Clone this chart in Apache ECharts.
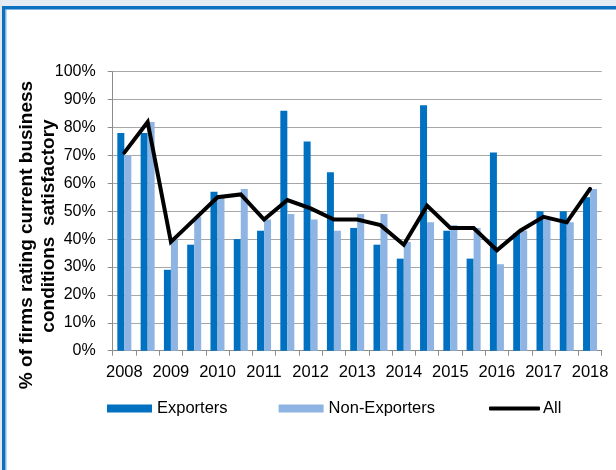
<!DOCTYPE html>
<html>
<head>
<meta charset="utf-8">
<script src="https://cdn.jsdelivr.net/npm/echarts@6/dist/echarts.min.js"></script>
<style>
html,body{margin:0;padding:0;background:#fff;}
#chart{width:616px;height:470px;}
</style>
</head>
<body>
<div id="chart"></div>
<script>
var categories = ['2008 H1','2008 H2','2009 H1','2009 H2','2010 H1','2010 H2','2011 H1','2011 H2','2012 H1','2012 H2','2013 H1','2013 H2','2014 H1','2014 H2','2015 H1','2015 H2','2016 H1','2016 H2','2017 H1','2017 H2','2018 H1'];
var exporters    = [78, 78, 29, 38, 57, 40, 43, 86, 75, 64, 44, 38, 33, 88, 43, 33, 71, 42, 50, 50, 55];
var nonExporters = [70, 82, 40, 48, 55, 58, 47, 49, 47, 43, 49, 49, 39, 46, 45, 44, 31, 43, 47, 46, 58];
var all          = [71, 82, 39, 47, 55, 56, 47, 54, 51, 47, 47, 45, 38, 52, 44, 44, 36, 43, 48, 46, 58];
var yTicks = [0, 10, 20, 30, 40, 50, 60, 70, 80, 90, 100];
var seriesNames = ['Exporters', 'Non-Exporters', 'All'];
var yTitleLines = ['% of firms rating current business', 'conditions  satisfactory'];

var chart = echarts.init(document.getElementById('chart'), null, {renderer: 'canvas'});
var font = 'Liberation Sans, Arial, sans-serif';
chart.setOption({
  animation: false,
  backgroundColor: '#ffffff',
  graphic: [
    {type: 'rect', shape: {x: 0, y: 0, width: 616, height: 6}, style: {fill: '#E4EBF5'}, silent: true},
    {type: 'rect', shape: {x: 0, y: 0, width: 2, height: 470}, style: {fill: '#E4E8EE'}, silent: true},
    {type: 'rect', shape: {x: 2, y: 6, width: 614, height: 3}, style: {fill: '#0C70C0'}, silent: true},
    {type: 'rect', shape: {x: 2, y: 9, width: 614, height: 1}, style: {fill: '#7FB2DE'}, silent: true},
    {type: 'rect', shape: {x: 2, y: 6, width: 3.5, height: 464}, style: {fill: '#0C70C0'}, silent: true},
    {type: 'rect', shape: {x: 5.5, y: 9, width: 1, height: 461}, style: {fill: '#7FB2DE'}, silent: true},
    {type: 'text', x: 27, y: 235, rotation: Math.PI / 2, silent: true,
     style: {text: yTitleLines[0], font: 'bold 19px ' + font, fill: '#000', textAlign: 'center', textVerticalAlign: 'middle'}},
    {type: 'text', x: 49, y: 226, rotation: Math.PI / 2, silent: true,
     style: {text: yTitleLines[1], font: 'bold 19px ' + font, fill: '#000', textAlign: 'center', textVerticalAlign: 'middle'}}
  ],
  grid: {left: 112.7, right: 14.3, top: 71.7, bottom: 119.3, containLabel: false, outerBoundsMode: 'none'},
  legend: [
    {
      data: [seriesNames[0], seriesNames[1]],
      left: 107, top: 400, padding: 0,
      itemWidth: 45, itemHeight: 8, itemGap: 51, icon: 'rect',
      textStyle: {fontFamily: font, fontSize: 16.5, color: '#000'},
      selectedMode: false
    },
    {
      data: [seriesNames[2]],
      left: 489, top: 400, padding: 0,
      itemWidth: 51, itemHeight: 4, icon: 'roundRect',
      textStyle: {fontFamily: font, fontSize: 16.5, color: '#000', padding: [0, 0, 0, -2]},
      selectedMode: false
    }
  ],
  xAxis: {
    type: 'category',
    data: categories,
    boundaryGap: true,
    axisLine: {lineStyle: {color: '#8C8C8C', width: 1}},
    axisTick: {show: true, interval: 0, length: 5, lineStyle: {color: '#8C8C8C'}},
    axisLabel: {
      interval: 1, margin: 13, color: '#000', fontFamily: font, fontSize: 16.5,
      formatter: function (v) { return v.slice(0, 4); }
    }
  },
  yAxis: {
    type: 'value',
    min: yTicks[0], max: yTicks[yTicks.length - 1], interval: 10,
    axisLine: {show: true, lineStyle: {color: '#8C8C8C', width: 1}},
    axisTick: {show: true, length: 5, lineStyle: {color: '#8C8C8C'}},
    splitLine: {show: true, lineStyle: {color: '#A6A6A6', width: 1}},
    axisLabel: {margin: 17, color: '#000', fontFamily: font, fontSize: 16, formatter: '{value}%'}
  },
  series: [
    {name: seriesNames[0], type: 'bar', data: exporters, barWidth: 7, barGap: '0%', itemStyle: {color: '#0070C0'}, z: 2},
    {name: seriesNames[1], type: 'bar', data: nonExporters, barWidth: 7, barGap: '0%', itemStyle: {color: '#8DB4E2'}, z: 2},
    {name: seriesNames[2], type: 'line', data: all, symbol: 'none', showSymbol: false,
     lineStyle: {color: '#000', width: 4, cap: 'round', join: 'miter'}, itemStyle: {color: '#000'}, z: 5}
  ]
});
</script>
</body>
</html>
